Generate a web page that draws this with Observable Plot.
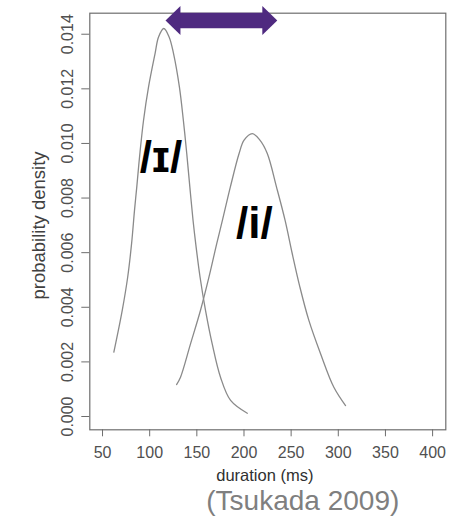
<!DOCTYPE html>
<html><head><meta charset="utf-8">
<script src="https://cdn.jsdelivr.net/npm/d3@7"></script>
<script src="https://cdn.jsdelivr.net/npm/@observablehq/plot@0.6"></script>
<style>body{margin:0;background:#fff} svg{display:block;font-family:"Liberation Sans",Arial,sans-serif}</style>
</head><body><div id="chart"></div>
<script>
// /ɪ/ (short vowel) density curve
const shortDuration = [62.0, 70.9, 76.7, 80.8, 83.9, 86.3, 89.6, 93.5, 98.8, 105.7, 109.4, 115.0, 120.6, 125.3, 131.5, 135.7, 139.3, 142.6, 146.0, 148.8, 153.4, 159.2, 166.3, 175.1, 185.8, 203.5];
const shortDensity  = [0.00236, 0.00389, 0.00511, 0.00633, 0.00755, 0.00840, 0.00963, 0.01085, 0.01207, 0.01329, 0.01390, 0.01421, 0.01390, 0.01329, 0.01207, 0.01085, 0.00963, 0.00840, 0.00718, 0.00633, 0.00511, 0.00389, 0.00266, 0.00144, 0.00059, 0.00012];
// /i/ (long vowel) density curve
const longDuration = [128.5, 132.7, 143.3, 153.9, 162.9, 171.1, 177.1, 185.5, 194.8, 200.1, 208.8, 216.9, 224.7, 234.5, 243.6, 251.2, 259.3, 268.8, 281.2, 295.3, 307.7];
const longDensity  = [0.00117, 0.00144, 0.00266, 0.00389, 0.00511, 0.00633, 0.00718, 0.00840, 0.00963, 0.01012, 0.01036, 0.01012, 0.00963, 0.00840, 0.00718, 0.00596, 0.00474, 0.00352, 0.00230, 0.00107, 0.00040];

const xTicks = [50, 100, 150, 200, 250, 300, 350, 400];
const yTicks = [0, 0.002, 0.004, 0.006, 0.008, 0.010, 0.012, 0.014];

const vowelLabels = ["/ɪ/", "/i/"];
const vowelLabelX = [112, 211];
const vowelLabelY = [0.00894, 0.00654];

const arrowX = [116.8, 235.3];
const arrowY = 0.0145;

const shortData = shortDuration.map((x, i) => ({x, y: shortDensity[i]}));
const longData = longDuration.map((x, i) => ({x, y: longDensity[i]}));
const labelData = vowelLabels.map((t, i) => ({t, x: vowelLabelX[i], y: vowelLabelY[i]}));

const purple = "#4f2a80";
const leftHead = {draw(ctx, size) {const r = Math.sqrt(size / Math.PI); ctx.moveTo(0, 0); ctx.lineTo(r * 1.03, -r); ctx.lineTo(r * 1.03, r); ctx.closePath();}};
const rightHead = {draw(ctx, size) {const r = Math.sqrt(size / Math.PI); ctx.moveTo(0, 0); ctx.lineTo(-r * 1.03, -r); ctx.lineTo(-r * 1.03, r); ctx.closePath();}};

const chart = Plot.plot({
  width: 453,
  height: 518,
  marginLeft: 89.3,
  marginRight: 7.7,
  marginTop: 12.7,
  marginBottom: 88.7,
  style: {fontFamily: "Liberation Sans, Arial, sans-serif", background: "#fff"},
  x: {domain: [36.5, 414]},
  y: {domain: [-0.000487, 0.01477]},
  marks: [
    Plot.frame({stroke: "#6e6e6e", strokeWidth: 1.2}),
    Plot.axisX({ticks: xTicks, tickSize: 7, tickPadding: 10, fontSize: 16, color: "#505050", stroke: "#6e6e6e", label: null}),
    Plot.axisY({ticks: yTicks, tickSize: 8, tickPadding: 9, tickRotate: -90, tickFormat: d3.format(".3f"), fontSize: 16, color: "#505050", stroke: "#6e6e6e", label: null}),
    Plot.line(shortData, {x: "x", y: "y", stroke: "#8a8a8a", strokeWidth: 1.3, curve: "catmull-rom"}),
    Plot.line(longData, {x: "x", y: "y", stroke: "#8a8a8a", strokeWidth: 1.3, curve: "catmull-rom"}),
    Plot.text(labelData, {x: "x", y: "y", text: "t", fontSize: 44, fontWeight: "bold", fill: "#000", lineAnchor: "bottom", textAnchor: "middle"}),
    Plot.ruleY([{y: arrowY, x1: arrowX[0], x2: arrowX[1]}], {y: "y", x1: "x1", x2: "x2", stroke: purple, strokeWidth: 15.6, insetLeft: 13, insetRight: 13}),
    Plot.dot([{x: arrowX[0], y: arrowY}], {x: "x", y: "y", r: 14.5, symbol: leftHead, fill: purple, stroke: "none"}),
    Plot.dot([{x: arrowX[1], y: arrowY}], {x: "x", y: "y", r: 14.5, symbol: rightHead, fill: purple, stroke: "none"}),
    Plot.text(["probability density"], {frameAnchor: "left", rotate: -90, dx: -51, dy: 4, fontSize: 18.5, fill: "#404040", textAnchor: "middle", lineAnchor: "middle"}),
    Plot.text(["duration (ms)"], {frameAnchor: "bottom", dx: -3, dy: 51, fontSize: 16.5, fill: "#303030", textAnchor: "middle", lineAnchor: "bottom"}),
    Plot.text(["(Tsukada 2009)"], {frameAnchor: "bottom", dx: 35, dy: 80, fontSize: 28, fill: "#7f7f7f", textAnchor: "middle", lineAnchor: "bottom"})
  ]
});
document.getElementById("chart").append(chart);
</script>
</body></html>
